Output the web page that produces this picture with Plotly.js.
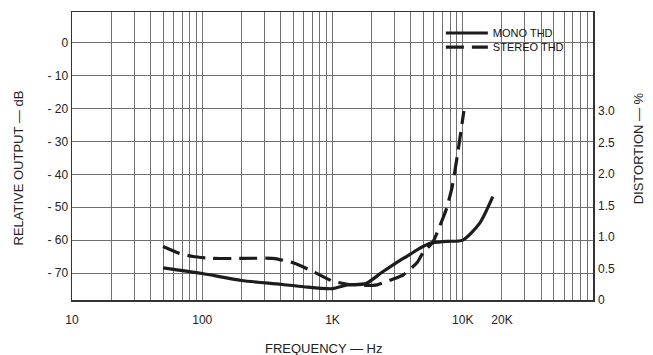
<!DOCTYPE html>
<html>
<head>
<meta charset="utf-8">
<script src="https://cdn.plot.ly/plotly-3.0.1.min.js"></script>
<style>html,body{margin:0;padding:0;background:#fff;}#chart{width:653px;height:355px;}</style>
</head>
<body>
<div id="chart"></div>
<script>
// Frequency (Hz) and THD (%)
const monoFreq   = [50, 100, 200, 400, 600, 1000, 1300, 1800, 2400, 3300, 3700, 4500, 5600, 7500, 10000, 13500, 17000];
const monoTHD    = [0.51, 0.42, 0.31, 0.25, 0.21, 0.18, 0.24, 0.26, 0.44, 0.63, 0.69, 0.80, 0.90, 0.93, 0.95, 1.22, 1.64];

const stereoFreq = [50, 67, 85, 120, 200, 350, 500, 710, 1000, 1300, 1800, 2200, 2900, 3500, 4450, 4950, 5900, 6300, 7500, 8300, 9100, 10200];
const stereoTHD  = [0.85, 0.74, 0.69, 0.66, 0.66, 0.66, 0.59, 0.45, 0.30, 0.25, 0.23, 0.24, 0.33, 0.40, 0.59, 0.75, 0.92, 1.05, 1.45, 1.80, 2.30, 3.00];

const seriesNames = ['MONO THD', 'STEREO THD'];

// Tick labels
const xTickVals = [10,20,30,40,50,60,70,80,90,
                   100,200,300,400,500,600,700,800,900,
                   1000,2000,3000,4000,5000,6000,7000,8000,9000,
                   10000,20000,30000,40000,50000,60000,70000,80000,90000,100000];
const xTickText = ['10','','','','','','','','',
                   '100','','','','','','','','',
                   '1K','','','','','','','','',
                   '10K','20K','','','','','','','',''];
const dbTickVals  = [0, -10, -20, -30, -40, -50, -60, -70];
const dbTickText  = ['0', '- 10', '- 20', '- 30', '- 40', '- 50', '- 60', '- 70'];
const pctTickVals = [0, 0.5, 1.0, 1.5, 2.0, 2.5, 3.0];
const pctTickText = ['0', '0.5', '1.0', '1.5', '2.0', '2.5', '3.0'];

const FONT = 'Liberation Sans, Arial, sans-serif';
const INK = '#1c1c1c';
const GRID = '#707070';

const traces = [
  // empty trace so the dB (left) axis and its grid are drawn
  {x: [], y: [], type: 'scatter', mode: 'lines', yaxis: 'y', showlegend: false, hoverinfo: 'skip'},
  {x: monoFreq, y: monoTHD, name: seriesNames[0], type: 'scatter', mode: 'lines', yaxis: 'y2', legend: 'legend',
   line: {color: INK, width: 3.2, shape: 'spline', smoothing: 0.7}},
  {x: stereoFreq, y: stereoTHD, name: seriesNames[1], type: 'scatter', mode: 'lines', yaxis: 'y2', legend: 'legend2',
   line: {color: INK, width: 3.2, dash: '18px,8px', shape: 'spline', smoothing: 0.5}}
];

const legendCommon = {xanchor: 'left', yanchor: 'middle', bgcolor: 'rgba(0,0,0,0)', borderwidth: 0,
                      itemwidth: 42, font: {family: FONT, size: 11, color: '#111'}};

const layout = {
  width: 653, height: 355,
  margin: {l: 72, r: 60, t: 12, b: 55},
  paper_bgcolor: '#fff', plot_bgcolor: '#fff',
  font: {family: FONT, color: '#222', size: 12},
  showlegend: true,
  legend:  Object.assign({x: 0.708, y: 0.927}, legendCommon),
  legend2: Object.assign({x: 0.708, y: 0.878}, legendCommon),
  // white backing behind the legend block (hides grid there, as in the reference)
  shapes: [
    {type: 'rect', xref: 'paper', yref: 'paper', x0: 0.718, x1: 0.99, y0: 0.83, y1: 0.948,
     fillcolor: '#fff', line: {width: 0}, layer: 'between'}
  ],
  xaxis: {type: 'log', range: [1, 5], tickmode: 'array', tickvals: xTickVals, ticktext: xTickText,
          showgrid: true, gridcolor: GRID, gridwidth: 1, zeroline: false,
          showline: true, mirror: true, linecolor: '#333', linewidth: 1.5, ticks: '',
          ticklabelstandoff: 8, tickfont: {size: 12, color: '#222'}, fixedrange: true},
  yaxis: {range: [-78.2, 9.4], tickmode: 'array', tickvals: dbTickVals, ticktext: dbTickText,
          showgrid: true, gridcolor: GRID, gridwidth: 1, zeroline: false,
          showline: true, mirror: true, linecolor: '#333', linewidth: 1.5, ticks: '',
          tickfont: {size: 12, color: '#222'}, fixedrange: true},
  yaxis2: {overlaying: 'y', side: 'right', range: [0, 4.571], tickmode: 'array',
           tickvals: pctTickVals, ticktext: pctTickText, showgrid: false, zeroline: false,
           showline: false, ticks: '', ticklabelstandoff: 4, tickfont: {size: 12, color: '#222'}, fixedrange: true},
  annotations: [
    {text: 'RELATIVE OUTPUT — dB', xref: 'paper', yref: 'paper', x: -0.12, y: 0.46,
     textangle: -90, showarrow: false, font: {family: FONT, size: 13, color: '#222'}},
    {text: 'DISTORTION — %', xref: 'paper', yref: 'paper', x: 1.105, y: 0.326,
     textangle: -90, showarrow: false, font: {family: FONT, size: 13, color: '#222'}},
    {text: 'FREQUENCY — Hz', xref: 'paper', yref: 'paper', x: 0.484, y: -0.2,
     showarrow: false, font: {family: FONT, size: 13, color: '#222'}}
  ]
};

Plotly.newPlot('chart', traces, layout, {displayModeBar: false, staticPlot: true});
</script>
</body>
</html>
